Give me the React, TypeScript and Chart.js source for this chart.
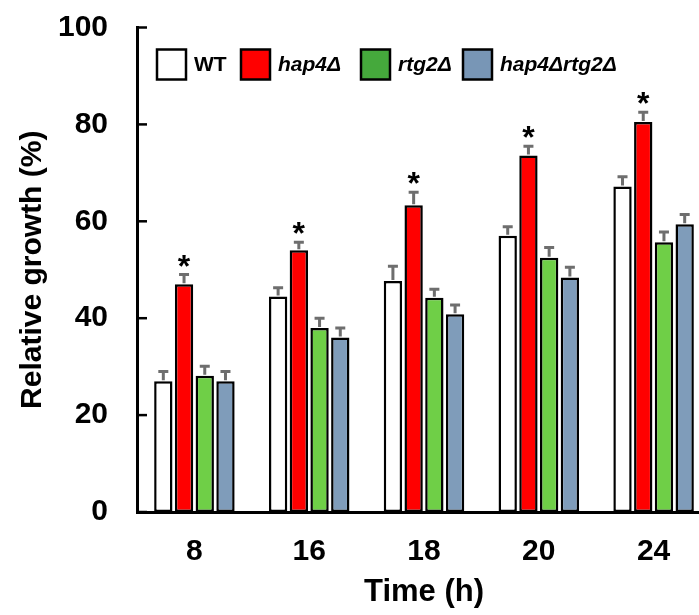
import { useEffect, useRef } from "react";
import { Chart, registerables } from "chart.js";

Chart.register(...registerables);

const categories = ["8", "16", "18", "20", "24"];
const seriesNames = ["WT", "hap4Δ", "rtg2Δ", "hap4Δrtg2Δ"];
const seriesItalic = [false, true, true, true];
const wtValues = [27.0, 44.5, 47.7, 57.0, 67.2];
const wtErrors = [2.0, 1.8, 3.0, 1.9, 2.0];
const hap4Values = [47.0, 54.0, 63.3, 73.6, 80.5];
const hap4Errors = [2.0, 1.7, 2.7, 1.9, 2.0];
const rtg2Values = [28.1, 38.0, 44.2, 52.5, 55.7];
const rtg2Errors = [2.0, 2.0, 1.8, 2.1, 2.1];
const doubleValues = [27.0, 36.0, 40.8, 48.4, 59.4];
const doubleErrors = [2.0, 2.0, 1.9, 2.1, 2.0];
const hap4Significant = [true, true, true, true, true];
const yTickValues = [0, 20, 40, 60, 80, 100];

const FONT = "'Liberation Sans', Arial, sans-serif";
const barColors = ["#ffffff", "#ff0000", "#6fcf47", "#7f9cba"];
const legendColors = ["#ffffff", "#ff0000", "#45a93c", "#7896b6"];
const errorColor = "#6e6e6e";

const allValues = [wtValues, hap4Values, rtg2Values, doubleValues];
const allErrors = [wtErrors, hap4Errors, rtg2Errors, doubleErrors];
const allSignificant = [null, hap4Significant, null, null];

const overlayPlugin = {
  id: "overlay",
  afterDatasetsDraw(chart: any) {
    const ctx = chart.ctx;
    const yScale = chart.scales.y;
    ctx.save();
    chart.data.datasets.forEach((ds: any, di: number) => {
      const meta = chart.getDatasetMeta(di);
      meta.data.forEach((bar: any, i: number) => {
        const v = allValues[di][i];
        const e = allErrors[di][i];
        const yTop = yScale.getPixelForValue(v);
        const yCap = yScale.getPixelForValue(v + e);
        ctx.strokeStyle = errorColor;
        ctx.lineWidth = 3;
        ctx.beginPath();
        ctx.moveTo(bar.x, yTop - 1);
        ctx.lineTo(bar.x, yCap);
        ctx.moveTo(bar.x - 5, yCap);
        ctx.lineTo(bar.x + 5, yCap);
        ctx.stroke();
        const sig = allSignificant[di];
        if (sig && sig[i]) {
          ctx.fillStyle = "#000";
          ctx.font = `bold 32px ${FONT}`;
          ctx.textAlign = "center";
          ctx.textBaseline = "alphabetic";
          ctx.fillText("*", bar.x, yCap + 2);
        }
      });
    });
    ctx.restore();
  },
  afterDraw(chart: any) {
    const ctx = chart.ctx;
    const yScale = chart.scales.y;
    const left = chart.chartArea.left;
    ctx.save();
    ctx.strokeStyle = "#000";
    ctx.lineWidth = 2.5;
    yTickValues.forEach((t) => {
      const y = yScale.getPixelForValue(t);
      ctx.beginPath();
      ctx.moveTo(left, y);
      ctx.lineTo(left + 10, y);
      ctx.stroke();
    });
    // legend
    const xs = [157, 241, 361, 463];
    const boxTop = chart.chartArea.top + 22;
    const boxW = 29;
    const boxH = 30;
    seriesNames.forEach((name, i) => {
      ctx.fillStyle = legendColors[i];
      ctx.fillRect(xs[i], boxTop, boxW, boxH);
      ctx.strokeStyle = "#000";
      ctx.lineWidth = 2.5;
      ctx.strokeRect(xs[i], boxTop, boxW, boxH);
      ctx.fillStyle = "#000";
      ctx.font = `${seriesItalic[i] ? "italic " : ""}bold 21px ${FONT}`;
      ctx.textAlign = "left";
      ctx.textBaseline = "middle";
      ctx.fillText(name, xs[i] + boxW + 8, boxTop + boxH / 2 + 1);
    });
    ctx.restore();
  },
};

export default function App() {
  const canvasRef = useRef<HTMLCanvasElement | null>(null);

  useEffect(() => {
    document.body.style.margin = "0";
    document.body.style.overflow = "hidden";
    const canvas = canvasRef.current;
    if (!canvas) return;
    const chart = new Chart(canvas, {
      type: "bar",
      data: {
        labels: categories,
        datasets: seriesNames.map((name, i) => ({
          label: name,
          data: allValues[i],
          backgroundColor: barColors[i],
          borderColor: "#000",
          borderWidth: 2.5,
          borderSkipped: false,
          categoryPercentage: 0.722,
          barPercentage: 0.885,
        })),
      },
      options: {
        responsive: false,
        animation: false,
        devicePixelRatio: 1,
        layout: { padding: { top: 27.5, right: 0, left: 0, bottom: 0 } },
        plugins: {
          legend: { display: false },
          tooltip: { enabled: false },
        },
        scales: {
          x: {
            grid: { display: false, drawTicks: false },
            border: { display: true, color: "#000", width: 3 },
            ticks: {
              color: "#000",
              font: { family: FONT, size: 30, weight: "bold" },
              padding: 22,
            },
            title: {
              display: true,
              text: "Time (h)",
              color: "#000",
              font: { family: FONT, size: 31, weight: "bold" },
              padding: { top: 0, bottom: 4 },
            },
            afterFit: (scale: any) => {
              scale.height = 103;
              scale.paddingLeft = 0;
              scale.paddingRight = 0;
            },
          },
          y: {
            min: 0,
            max: 100,
            grid: { display: false, drawTicks: false },
            border: { display: true, color: "#000", width: 3 },
            ticks: {
              stepSize: 20,
              color: "#000",
              font: { family: FONT, size: 30, weight: "bold" },
              padding: 29,
            },
            title: {
              display: true,
              text: "Relative growth (%)",
              color: "#000",
              font: { family: FONT, size: 30, weight: "bold" },
              padding: { top: 15, bottom: 0 },
            },
            afterFit: (scale: any) => {
              scale.width = 137;
              scale.paddingTop = 0;
              scale.paddingBottom = 0;
            },
          },
        },
      },
      plugins: [overlayPlugin],
    });
    return () => chart.destroy();
  }, []);

  return (
    <div style={{ width: 699, height: 615, overflow: "hidden" }}>
      <canvas ref={canvasRef} width={711} height={615} style={{ display: "block" }} />
    </div>
  );
}
